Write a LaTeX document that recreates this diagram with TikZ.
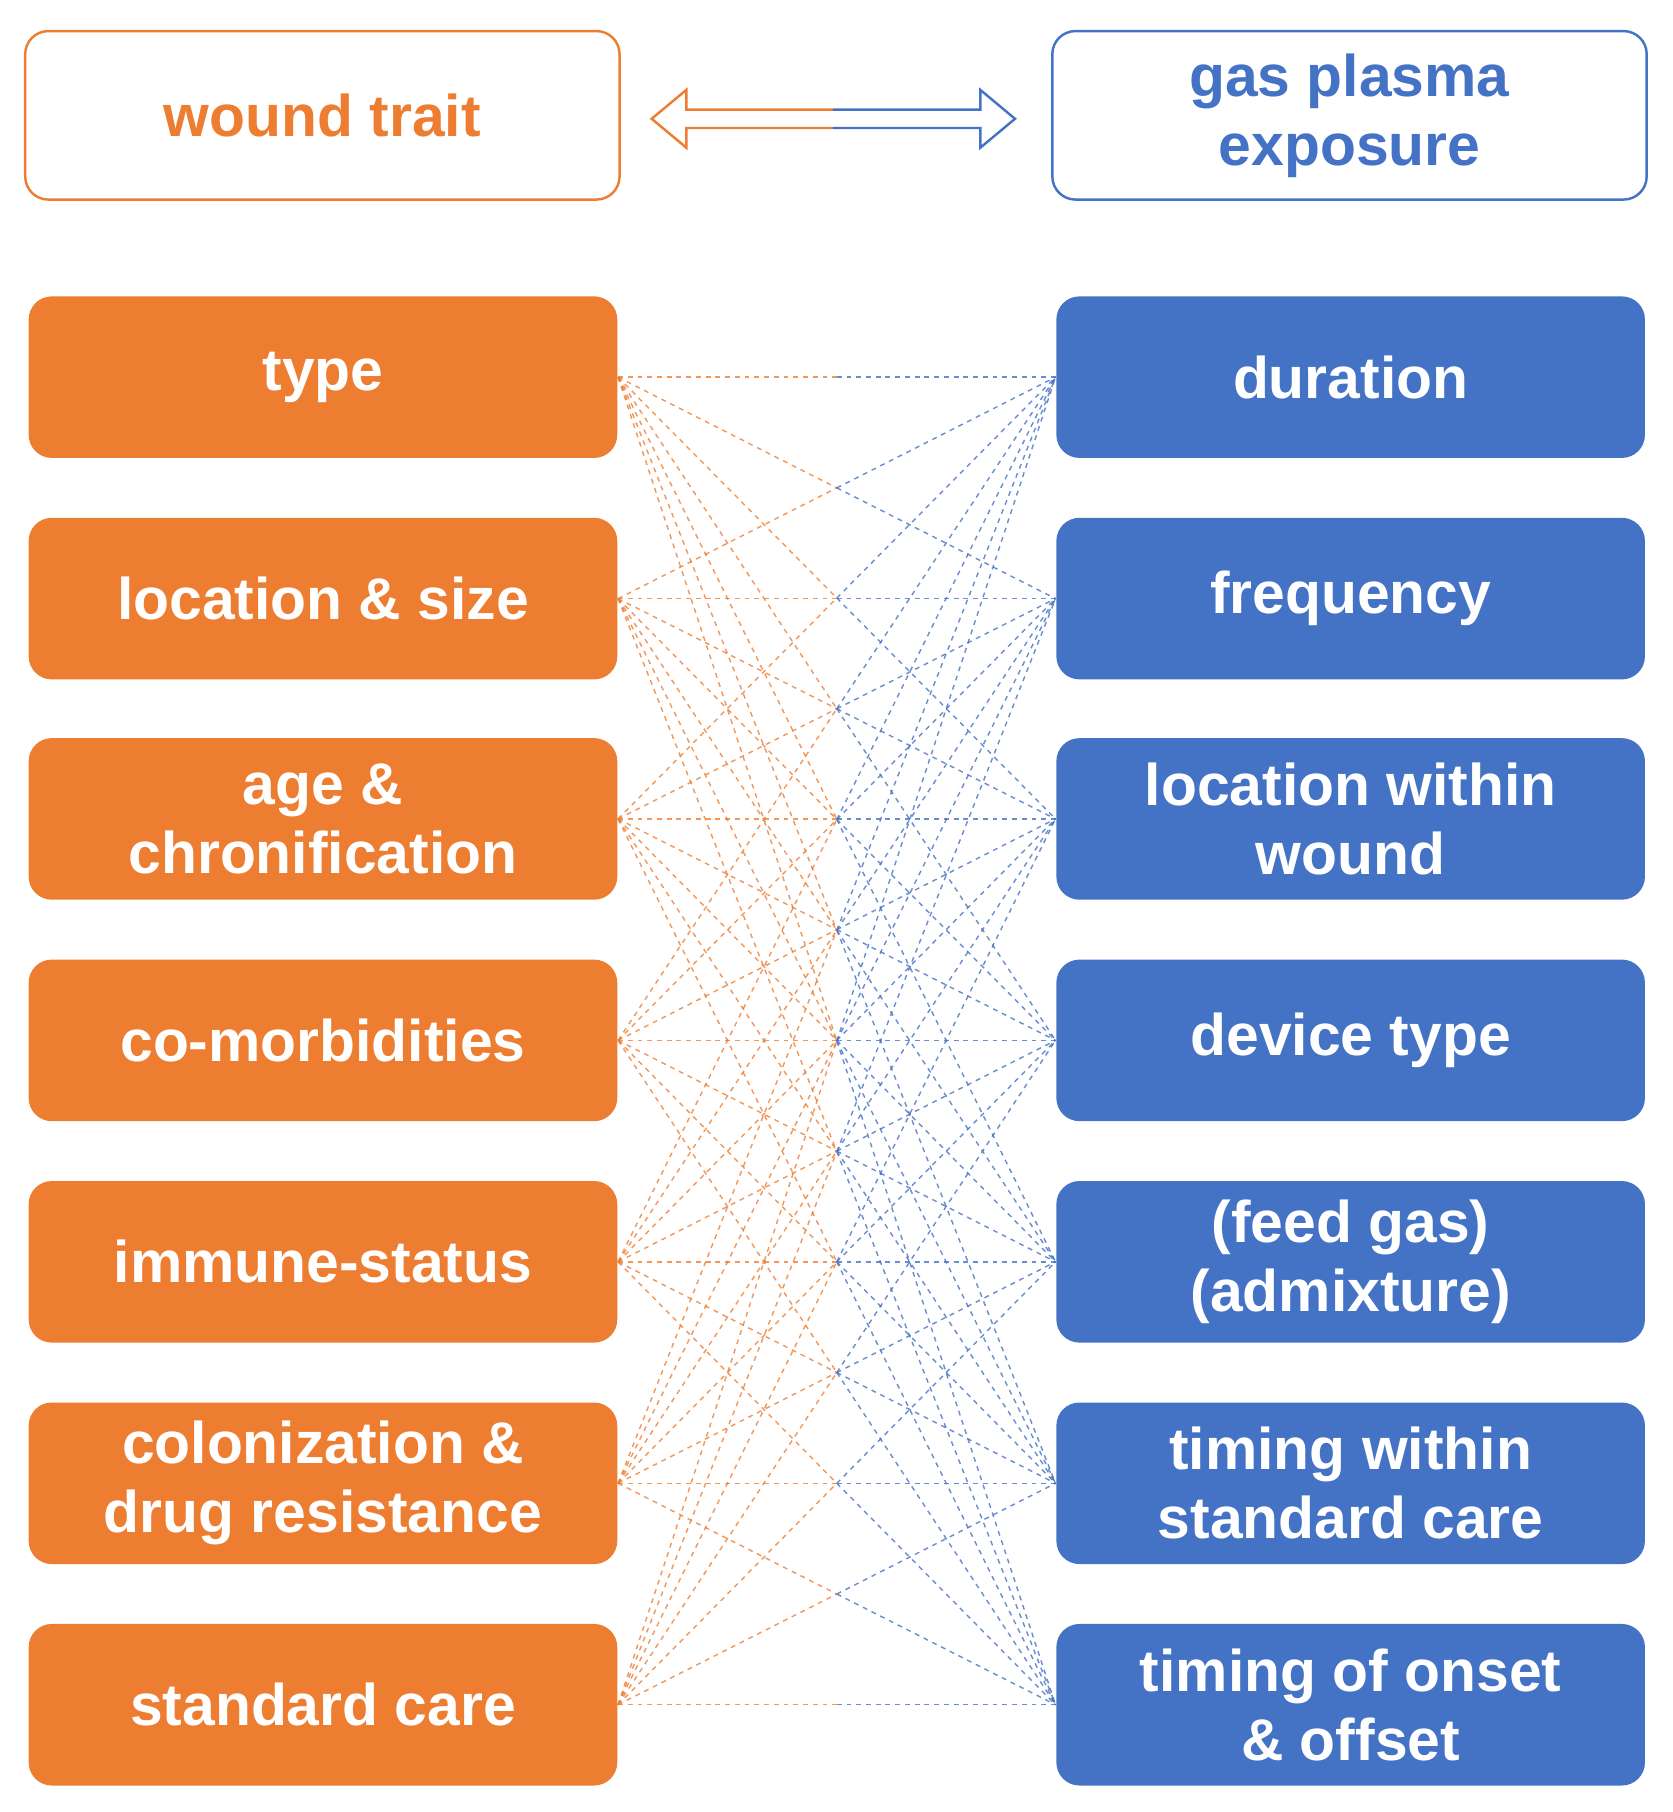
\documentclass[tikz,border=0pt]{standalone}
\usepackage{fontspec}
\setmainfont{Liberation Sans}
\begin{document}
\begin{tikzpicture}[x=0.01cm,y=-0.01cm,
  ob/.style={fill=orangeC,draw=none,rounded corners=0.2cm,minimum width=5.1cm,minimum height=1.4cm,text=white,font=\fontsize{14.5}{17}\selectfont\bfseries,align=center,inner sep=0pt},
  bb/.style={ob,fill=blueC},
  hd/.style={draw,rounded corners=0.2cm,minimum width=5.15cm,minimum height=1.46cm,font=\fontsize{14.5}{17}\selectfont\bfseries,align=center,inner sep=0pt,line width=0.6pt},
  lnk/.style={dash pattern=on 1.2pt off 1.2pt,line width=0.35pt,opacity=0.8}]
\definecolor{orangeC}{HTML}{ED7D31}
\definecolor{blueC}{HTML}{4472C4}
\useasboundingbox (0,0) rectangle (1450,1571);
\node[hd,draw=orangeC,text=orangeC] (wt) at (279.5,100) {wound trait};
\node[hd,draw=blueC,text=blueC] (gp) at (1170,100) {gas plasma\\exposure};
\coordinate (ml) at (565,103); \coordinate (mr) at (880,103);
\draw[orangeC,line width=0.6pt] (722,95) -- (595,95) -- (595,78) -- (ml) -- (595,128) -- (595,111) -- (722,111);
\draw[blueC,line width=0.6pt] (722,95) -- (850,95) -- (850,78) -- (mr) -- (850,128) -- (850,111) -- (722,111);
\foreach \i/\t [count=\k] in {327/type,519/location \& size,710/age \&\\chronification,902/co-morbidities,1094/immune-status,1286/colonization \&\\drug resistance,1478/standard care}
  \node[ob] (L\k) at (280,\i) {\t};
\foreach \i/\t [count=\k] in {327/duration,519/frequency,710/location within\\wound,902/device type,1094/(feed gas)\\(admixture),1286/timing within\\standard care,1478/timing of onset\\\& offset}
  \node[bb] (R\k) at (1171,\i) {\t};
\foreach \a in {1,...,7}{
  \foreach \b in {1,...,7}{
    \path (L\a.east) -- coordinate[pos=0.5] (m\a\b) (R\b.west);
    \draw[lnk,orangeC] (L\a.east) -- (m\a\b);
    \draw[lnk,blueC] (m\a\b) -- (R\b.west);
  }}
\end{tikzpicture}
\end{document}
